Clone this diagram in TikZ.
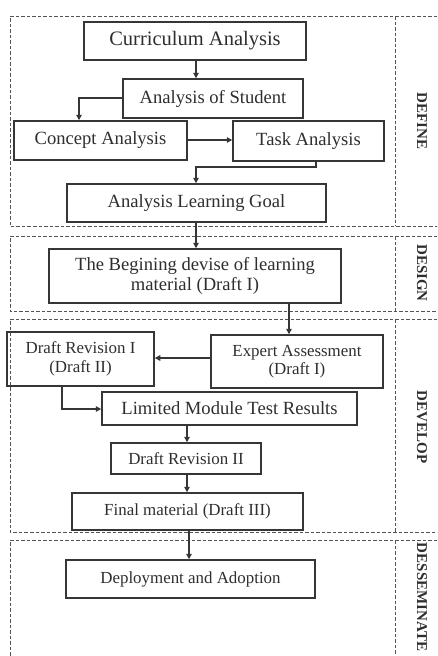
\documentclass[tikz,border=0pt]{standalone}
\usepackage{fontspec}
\setmainfont{Liberation Serif}
\usetikzlibrary{arrows.meta}
\definecolor{ink}{HTML}{2E2E2E}
\definecolor{edge}{HTML}{363636}
\begin{document}
\begin{tikzpicture}[x=1pt,y=-1pt,
  box/.style={draw=edge,line width=1.5pt,inner sep=0pt,text=ink,align=center},
  big/.style={font=\fontsize{20.5}{23}\selectfont},
  med/.style={font=\fontsize{18.6}{20.5}\selectfont},
  sml/.style={font=\fontsize{16.9}{18.5}\selectfont},
  conn/.style={draw=edge,line width=1.2pt,-{Triangle[length=5.5pt,width=5.5pt]}},
  region/.style={draw=edge!85,line width=1pt,dash pattern=on 3.5pt off 2pt},
  phase/.style={rotate=-90,font=\fontsize{15}{17}\bfseries\selectfont,text=ink,inner sep=0pt}]
\useasboundingbox (0,0) rectangle (437,656);
\clip (0,0) rectangle (437,656);
% phase regions
\draw[region] (470,16) -- (10,16) -- (10,226) -- (470,226);
\draw[region] (470,236) -- (10,236) -- (10,311) -- (470,311);
\draw[region] (470,319) -- (10,319) -- (10,532) -- (470,532);
\draw[region] (470,540) -- (10,540) -- (10,700);
\draw[region] (395,16) -- (395,226);
\draw[region] (395,236) -- (395,311);
\draw[region] (395,319) -- (395,532);
\draw[region] (395,540) -- (395,700);
% phase labels
\node[phase] (lDefine) at (422,121) {DEFINE};
\node[phase] (lDesign) at (422,273) {DESIGN};
\node[phase] (lDevelop) at (422,427) {DEVELOP};
\node[phase] (lDissem) at (422,597) {DESSEMINATE};
% boxes
\node[box,big,minimum width=222pt,minimum height=38pt] (cur) at (195,41) {Curriculum Analysis};
\node[box,med,minimum width=180pt,minimum height=39pt] (stu) at (213,98.5) {Analysis of Student};
\node[box,med,minimum width=173pt,minimum height=39pt] (con) at (100.5,140.5) {Concept Analysis};
\node[box,med,minimum width=151pt,minimum height=40pt] (task) at (308.5,141) {Task Analysis};
\node[box,med,minimum width=259pt,minimum height=38pt] (alg) at (196.5,203) {Analysis Learning Goal};
\node[box,med,minimum width=292pt,minimum height=54pt] (beg) at (195,276) {The Begining devise of learning\\material (Draft I)};
\node[box,sml,minimum width=172pt,minimum height=53pt] (exp) at (297,361.5) {Expert Assessment\\(Draft I)};
\node[box,sml,minimum width=147pt,minimum height=54pt] (dr1) at (80.5,359) {Draft Revision I\\(Draft II)};
\node[box,med,minimum width=255pt,minimum height=33pt] (lim) at (229.5,408.5) {Limited Module Test Results};
\node[box,sml,minimum width=150pt,minimum height=31pt] (dr2) at (186,458.5) {Draft Revision II};
\node[box,sml,minimum width=231pt,minimum height=37pt] (fin) at (187.5,511.5) {Final material (Draft III)};
\node[box,sml,minimum width=249pt,minimum height=38pt] (dep) at (190.5,579) {Deployment and Adoption};
% connectors
\draw[conn] (cur.south -| 196,0) -- (stu.north -| 196,0);
\draw[conn] (stu.west |- 0,98) -| (con.north -| 79,0);
\draw[conn] (con.east |- 0,140) -- (task.west |- 0,140);
\coordinate (tk) at (316,167);
\draw[conn] (task.south -| tk) -- (tk) -| (alg.north -| 196,0);
\draw[conn] (alg.south -| 196,0) -- (beg.north -| 196,0);
\draw[conn] (beg.south -| 289,0) -- (exp.north -| 289,0);
\draw[conn] (exp.west |- 0,358) -- (dr1.east |- 0,358);
\coordinate (dk) at (62,409);
\draw[conn] (dr1.south -| dk) -- (dk) -- (lim.west |- dk);
\draw[conn] (lim.south -| 187,0) -- (dr2.north -| 187,0);
\draw[conn] (dr2.south -| 187,0) -- (fin.north -| 187,0);
\draw[conn] (fin.south -| 189,0) -- (dep.north -| 189,0);
\end{tikzpicture}
\end{document}
